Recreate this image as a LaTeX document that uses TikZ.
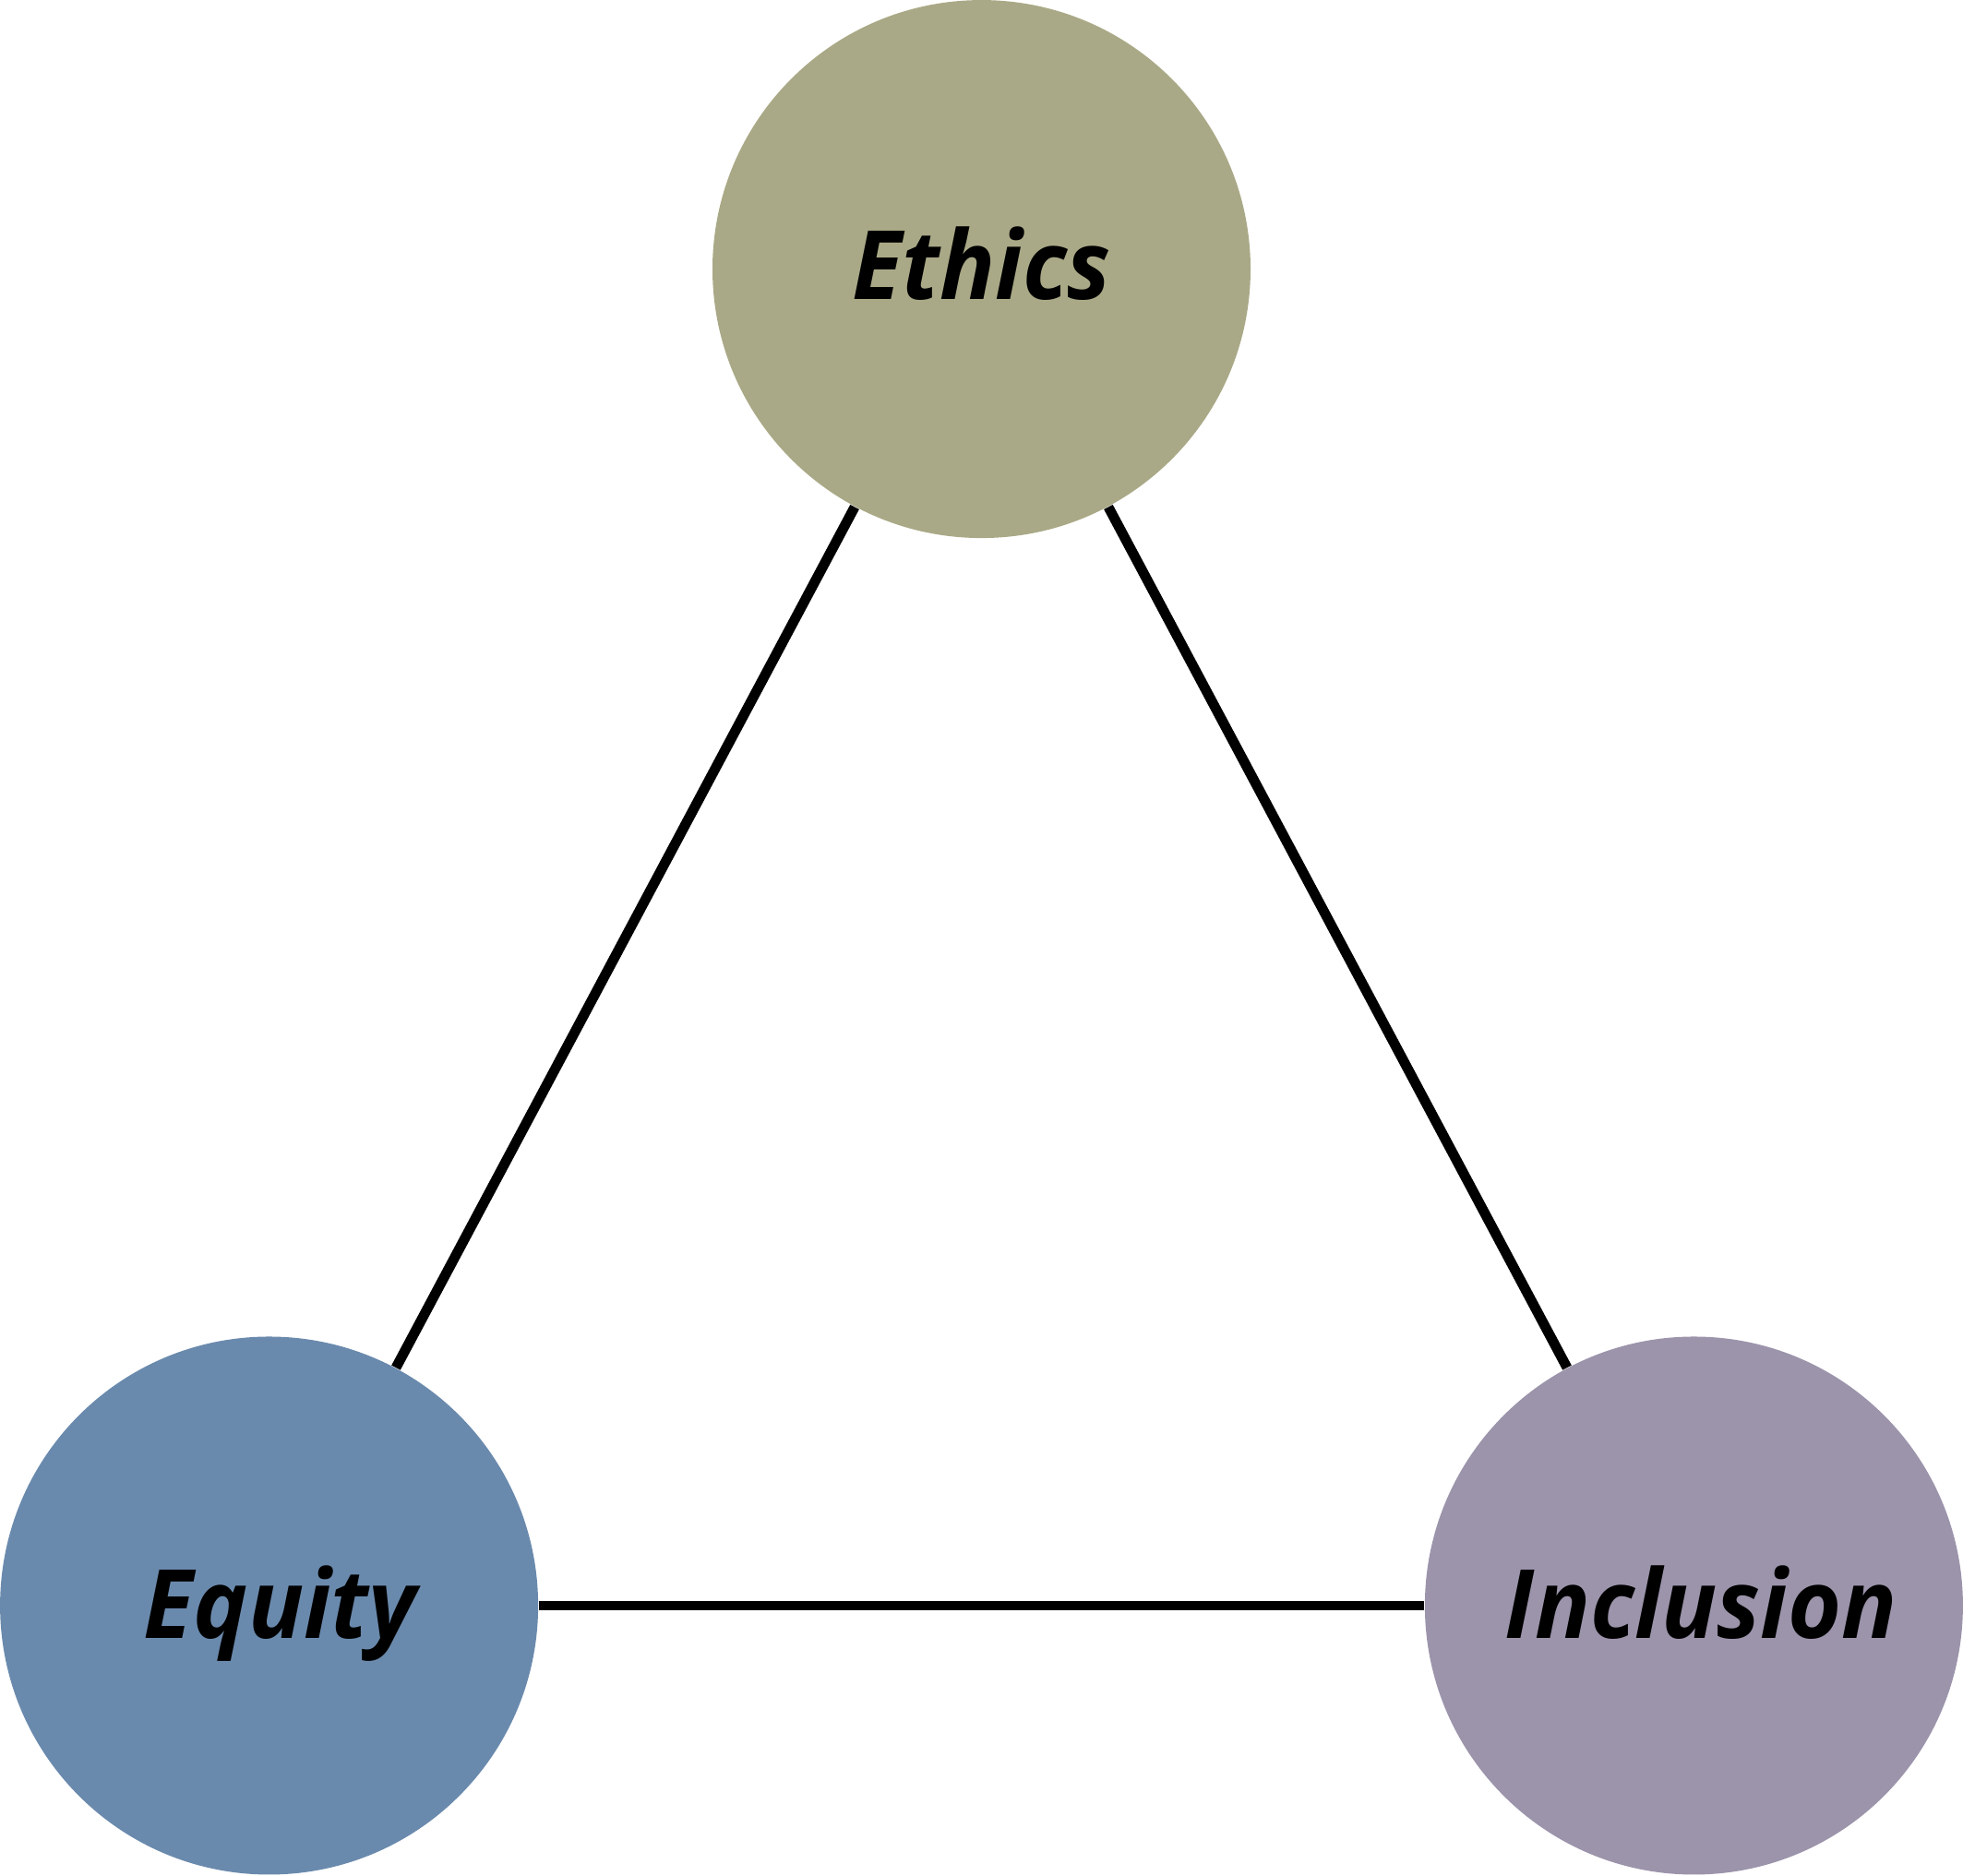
\documentclass[tikz,border=0pt]{standalone}
\usepackage{fontspec}
\newfontfamily\pillarfont{Open Sans}[FakeStretch=0.96]
\definecolor{ethicscol}{HTML}{AAA987}
\definecolor{equitycol}{HTML}{6A8AAD}
\definecolor{inclusioncol}{HTML}{9C94AB}
\begin{document}
\begin{tikzpicture}[
  pillar/.style={circle,minimum size=5.83cm,inner sep=0pt},
  pillarlabel/.style={anchor=base,inner sep=0pt,
                      font=\pillarfont\fontsize{29.5}{36}\selectfont\bfseries\itshape},
  link/.style={line width=3.1pt,black},
]

% Canvas
\useasboundingbox (0,0) rectangle (21.27,20.33);

% The three values
\node[pillar,fill=ethicscol]    (ethics)    at (10.635,17.414) {};
\node[pillar,fill=equitycol]    (equity)    at (2.916,2.93)    {};
\node[pillar,fill=inclusioncol] (inclusion) at (18.354,2.93)   {};

% Labels
\node[pillarlabel] (ethicslbl)
  at ([yshift=-0.33cm]ethics.center) {Ethics};
\node[pillarlabel] (equitylbl)
  at ([xshift=0.12cm,yshift=-0.36cm]equity.center) {Equity};
\node[pillarlabel] (inclusionlbl)
  at ([xshift=0.08cm,yshift=-0.36cm]inclusion.center) {Inclusion};

% Links between them
\draw[link] (ethics) -- (equity);
\draw[link] (ethics) -- (inclusion);
\draw[link] (equity) -- (inclusion);

\end{tikzpicture}
\end{document}
